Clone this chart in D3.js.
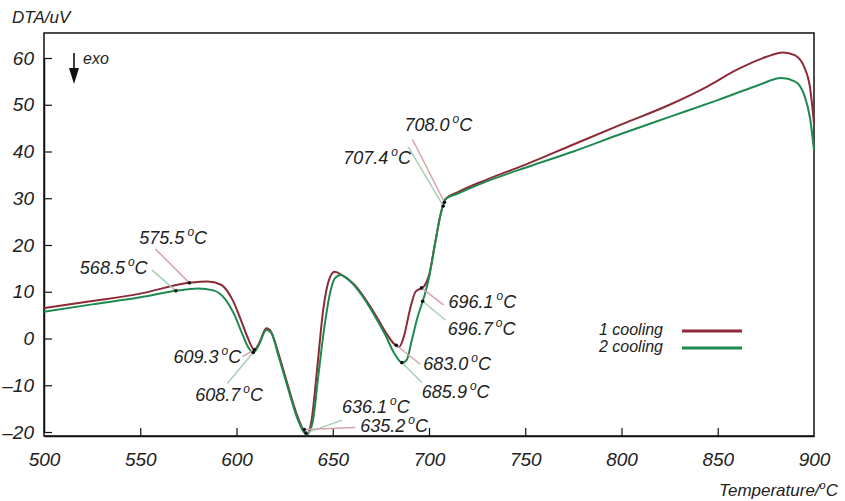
<!DOCTYPE html>
<html>
<head>
<meta charset="utf-8">
<script src="https://cdn.jsdelivr.net/npm/d3@7/dist/d3.min.js"></script>
<style>
  body { margin: 0; background: #fff; }
  text { font-family: "Liberation Sans", Arial, sans-serif; font-style: italic; fill: #222; }
</style>
</head>
<body>
<script>
// cooling run 1 (red)
var temps1 = [500, 525, 550, 575.5, 585, 592, 598, 603, 606, 609.3, 612, 615.5, 618, 622, 627, 632, 636.5,
  639, 642, 645, 648, 651, 655, 661, 667, 673, 678, 682, 684.5, 687, 690, 693, 697.5, 700, 703, 706, 708.5,
  715, 730, 752, 775, 800, 825, 845, 860, 875, 884, 890, 895, 898, 900];
var dta1 = [6.5, 8.0, 9.6, 11.9, 12.2, 11.5, 8.2, 3.2, 0.0, -2.4, -0.8, 2.2, 1.4, -3.5, -10.5, -17, -20.5,
  -17.5, -6, 6, 12.5, 14.3, 13.5, 11.6, 8.4, 4.5, 1.0, -1.2, -1.8, 0.5, 6, 10, 11.2, 13.5, 20, 26.5, 29.8,
  31.3, 34.0, 37.5, 41.5, 45.8, 50.0, 54.0, 57.5, 60.2, 61.2, 60.6, 58.0, 53.5, 46.0];

// cooling run 2 (green)
var temps2 = [500, 525, 550, 568.5, 580, 588, 594, 599, 603, 606, 608.7, 611.5, 615.5, 618, 622, 627, 632, 636.5,
  639.5, 642.5, 645.5, 648.5, 651, 654, 659, 665, 671, 677, 682, 686, 688.5, 691, 694, 697.5, 700, 703, 706, 708.5,
  715, 730, 752, 775, 800, 825, 850, 870, 883, 890, 895, 898, 900];
var dta2 = [5.7, 7.3, 8.8, 10.2, 10.7, 10.3, 8.5, 5.0, 1.0, -1.8, -3.0, -1.5, 1.8, 1.2, -4, -11, -17.5, -20.5,
  -18, -8, 2, 9.5, 12.8, 13.6, 12.3, 9.3, 5.4, 1.0, -3.2, -5.2, -4.5, -0.5, 4.5, 9.0, 13, 20, 26.5, 29.8,
  31.0, 33.6, 36.8, 40.0, 43.8, 47.4, 51.0, 54.0, 55.7, 55.0, 52.0, 47.0, 40.3];

var xTicks = [500, 550, 600, 650, 700, 750, 800, 850, 900];
var yTicks = [-20, -10, 0, 10, 20, 30, 40, 50, 60];

// marked points: temperature, series, label
var markTemps = [575.5, 568.5, 609.3, 608.7, 636.1, 635.2, 683.0, 685.9, 696.1, 696.7, 708.0, 707.4];
var markSeries = [1, 2, 1, 2, 2, 1, 1, 2, 1, 2, 1, 2];
var markLabels = ["575.5", "568.5", "609.3", "608.7", "636.1", "635.2", "683.0", "685.9", "696.1", "696.7", "708.0", "707.4"];
// layout: leader start and label start, relative to the marked point (px)
var markLayout = [
  {lx: -34, ly: -34, tx: -50, ty: -39},
  {lx: -24, ly: -21, tx: -96, ty: -17},
  {lx: -12, ly: 7, tx: -81, ty: 13},
  {lx: -26, ly: 31, tx: -58, ty: 48},
  {lx: 36, ly: -13, tx: 36, ty: -20},
  {lx: 51, ly: -2, tx: 56, ty: 2},
  {lx: 24, ly: 19, tx: 27, ty: 25},
  {lx: 20, ly: 20, tx: 20, ty: 35},
  {lx: 22, ly: 17, tx: 27, ty: 20},
  {lx: 23, ly: 19, tx: 25, ty: 34},
  {lx: -32, ly: -63, tx: -40, ty: -71},
  {lx: -35, ly: -59, tx: -100, ty: -42}
];

var seriesNames = ["1 cooling", "2 cooling"];
var colors = ["#8c2a35", "#1f8a50"];
var leaderColors = ["#d7a2ab", "#a8ceb4"];

var width = 845, height = 501;

var x = d3.scaleLinear().domain([500, 900]).range([44, 814]);
var y = d3.scaleLinear().domain([-20, 60]).range([432, 58]);
var yTop = 65.35, yBottom = -20.85;

var svg = d3.select("body").append("svg")
  .attr("width", width)
  .attr("height", height);

// frame
svg.append("rect")
  .attr("x", x(500)).attr("y", y(yTop))
  .attr("width", x(900) - x(500)).attr("height", y(yBottom) - y(yTop))
  .attr("fill", "none").attr("stroke", "#111").attr("stroke-width", 1.5);

// axes with inward ticks
var xAxis = svg.append("g")
  .attr("transform", "translate(0," + y(yBottom) + ")")
  .call(d3.axisBottom(x).tickValues(xTicks).tickSizeInner(-8).tickSizeOuter(0).tickPadding(17));
var yAxis = svg.append("g")
  .attr("transform", "translate(" + x(500) + ",0)")
  .call(d3.axisLeft(y).tickValues(yTicks).tickSizeInner(-8).tickSizeOuter(0).tickPadding(10)
    .tickFormat(function(d) { return d < 0 ? "\u2013" + Math.abs(d) : d; }));
[xAxis, yAxis].forEach(function(g) {
  g.select(".domain").attr("stroke", "#111").attr("stroke-width", 1.5);
  g.selectAll(".tick line").attr("stroke", "#111").attr("stroke-width", 1.2);
  g.selectAll(".tick text")
    .attr("fill", "#222")
    .style("font-family", "'Liberation Sans', Arial, sans-serif")
    .style("font-style", "italic")
    .style("font-size", "19px");
});
xAxis.selectAll(".tick line").filter(function(d) { return d === 500 || d === 900; }).remove();

// curves
var line = d3.line()
  .x(function(d) { return x(d[0]); })
  .y(function(d) { return y(d[1]); })
  .curve(d3.curveMonotoneX);

var series = [d3.zip(temps1, dta1), d3.zip(temps2, dta2)];
series.forEach(function(s, i) {
  svg.append("path")
    .datum(s)
    .attr("fill", "none")
    .attr("stroke", colors[i])
    .attr("stroke-width", 2)
    .attr("d", line);
});

// value of a series at temperature t (linear between read points)
function valueAt(s, t) {
  var i = d3.bisector(function(d) { return d[0]; }).left(s, t);
  if (i <= 0) return s[0][1];
  var a = s[i - 1], b = s[i];
  return a[1] + (b[1] - a[1]) * (t - a[0]) / (b[0] - a[0]);
}

var marks = markTemps.map(function(t, i) {
  var s = series[markSeries[i] - 1];
  return { t: t, v: valueAt(s, t), k: markSeries[i] - 1, label: markLabels[i], lay: markLayout[i] };
});

var ann = svg.append("g");
marks.forEach(function(m) {
  var px = x(m.t), py = y(m.v);
  ann.append("line")
    .attr("x1", px + m.lay.lx).attr("y1", py + m.lay.ly)
    .attr("x2", px).attr("y2", py)
    .attr("stroke", leaderColors[m.k]).attr("stroke-width", 1.5);
  var txt = ann.append("text")
    .attr("x", px + m.lay.tx).attr("y", py + m.lay.ty)
    .style("font-size", "18px");
  txt.append("tspan").text(m.label);
  txt.append("tspan").attr("dx", 3).attr("dy", -8).style("font-size", "12px").text("o");
  txt.append("tspan").attr("dy", 8).text("C");
});
marks.forEach(function(m) {
  ann.append("circle")
    .attr("cx", x(m.t)).attr("cy", y(m.v)).attr("r", 1.8)
    .attr("fill", "#111");
});

// axis titles
svg.append("text").attr("x", 12).attr("y", 23).style("font-size", "17px").text("DTA/uV");
var xt = svg.append("text").attr("x", 838).attr("y", 496).attr("text-anchor", "end").style("font-size", "17px");
xt.append("tspan").text("Temperature/");
xt.append("tspan").attr("dy", -7).style("font-size", "11px").text("o");
xt.append("tspan").attr("dy", 7).text("C");

// exo arrow
svg.append("line")
  .attr("x1", 74).attr("y1", 53).attr("x2", 74).attr("y2", 76)
  .attr("stroke", "#111").attr("stroke-width", 1.6);
svg.append("path").attr("d", "M69,68 L79,68 L74,84 Z").attr("fill", "#111");
svg.append("text").attr("x", 83).attr("y", 64).style("font-size", "16px").text("exo");

// legend
var legend = svg.append("g");
seriesNames.forEach(function(name, i) {
  var ly = 331 + i * 17;
  legend.append("text")
    .attr("x", 663).attr("y", ly + 4).attr("text-anchor", "end")
    .style("font-size", "16px").text(name);
  legend.append("line")
    .attr("x1", 682).attr("x2", 742).attr("y1", ly).attr("y2", ly)
    .attr("stroke", colors[i]).attr("stroke-width", 3);
});
</script>
</body>
</html>
